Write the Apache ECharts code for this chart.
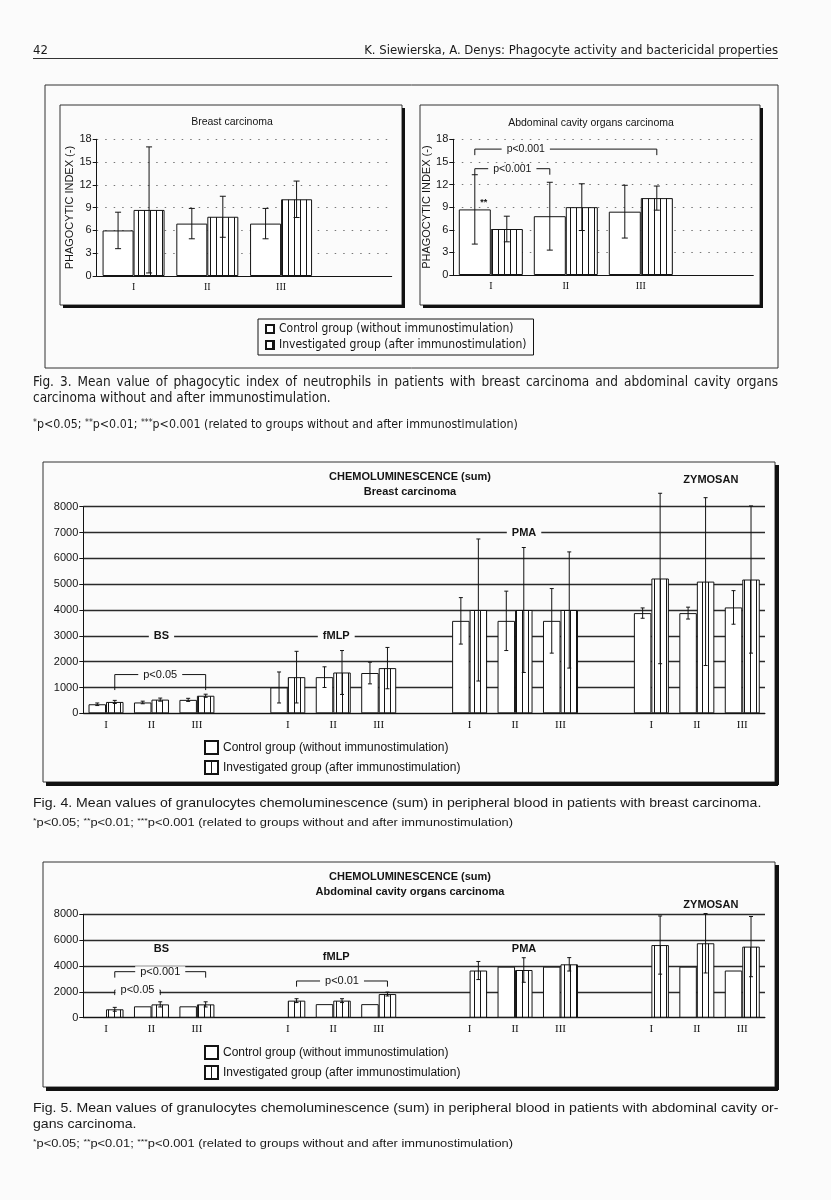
<!DOCTYPE html>
<html lang="en">
<head>
<meta charset="utf-8">
<title>Phagocyte activity - Fig. 3-5</title>
<script src="https://cdn.jsdelivr.net/npm/echarts@6/dist/echarts.min.js"></script>
<style>
    html, body { margin: 0; padding: 0; background: #fbfbfb; }
    #page { position: relative; width: 831px; height: 1200px; overflow: hidden; }
    #chart { position: absolute; left: 0; top: 0; width: 831px; height: 1200px; }
    .txt { position: absolute; left: 33px; width: 745px; color: #1a1a1a; white-space: nowrap;
           font-family: "Liberation Sans", Arial, sans-serif; transform-origin: 0 0; }
    .narrow { font-family: "Liberation Sans Narrow", "DejaVu Sans Condensed", "Liberation Sans", sans-serif; }
    .just { text-align: justify; text-align-last: justify; }
    .wide { transform: scaleX(1.085); width: 687px; }
    .foot { font-size: 11px; line-height: 14px; transform: scaleX(1.17); }
    sup { font-size: 70%; vertical-align: 3px; line-height: 0; }
</style>
</head>
<body>
<div id="page">
    <div id="chart"></div>

    <!--page header-->
    <div class="txt narrow" style="top:42px;font-size:13px;line-height:15px;border-bottom:1px solid #333;padding-bottom:1px;">
        <span>42</span><span style="float:right">K. Siewierska, A. Denys: Phagocyte activity and bactericidal properties</span>
    </div>

    <!--Fig. 3 caption-->
    <div class="txt narrow just" style="top:373px;font-size:13.5px;line-height:16px;">Fig. 3. Mean value of phagocytic index of neutrophils in patients with breast carcinoma and abdominal cavity organs</div>
    <div class="txt narrow" style="top:389px;font-size:13.5px;line-height:16px;">carcinoma without and after immunostimulation.</div>
    <div class="txt narrow" style="top:417px;font-size:12.3px;line-height:14px;"><sup>*</sup>p&lt;0.05; <sup>**</sup>p&lt;0.01; <sup>***</sup>p&lt;0.001 (related to groups without and after immunostimulation)</div>

    <!--Fig. 4 caption-->
    <div class="txt wide" style="top:795px;font-size:13px;line-height:16px;">Fig. 4. Mean values of granulocytes chemoluminescence (sum) in peripheral blood in patients with breast carcinoma.</div>
    <div class="txt foot" style="top:815px;"><sup>*</sup>p&lt;0.05; <sup>**</sup>p&lt;0.01; <sup>***</sup>p&lt;0.001 (related to groups without and after immunostimulation)</div>

    <!--Fig. 5 caption-->
    <div class="txt wide just" style="top:1100px;font-size:13px;line-height:16px;">Fig. 5. Mean values of granulocytes chemoluminescence (sum) in peripheral blood in patients with abdominal cavity or-</div>
    <div class="txt wide" style="top:1116px;font-size:13px;line-height:16px;">gans carcinoma.</div>
    <div class="txt foot" style="top:1136px;"><sup>*</sup>p&lt;0.05; <sup>**</sup>p&lt;0.01; <sup>***</sup>p&lt;0.001 (related to groups without and after immunostimulation)</div>
</div>

<script>
    // ---- Fig. 3: phagocytic index ----
    var fig3Cats     = ['I', 'II', 'III', ''];
    var breastCtrl   = [6.0, 6.9, 6.9, '-'];
    var breastCtrlSd = [2.4, 2.0, 2.0, '-'];
    var breastInv    = [8.7, 7.8, 10.1, '-'];
    var breastInvSd  = [8.3, 2.7, 2.4, '-'];
    var abdCtrl      = [8.7, 7.8, 8.4, '-'];
    var abdCtrlSd    = [4.6, 4.5, 3.5, '-'];
    var abdInv       = [6.1, 9.0, 10.2, '-'];
    var abdInvSd     = [1.7, 3.1, 1.6, '-'];

    // ---- Fig. 4 / 5: chemoluminescence (sum) ----
    var clCats = ['I', 'II', 'III', '', 'I', 'II', 'III', '', 'I', 'II', 'III', '', 'I', 'II', 'III'];
    var breastClCtrl   = [350, 420, 520, '-', 1000, 1400, 1560, '-', 3580, 3580, 3580, '-', 3880, 3880, 4100];
    var breastClCtrlSd = [50, 50, 60, '-', 600, 400, 420, '-', 900, 1150, 1250, '-', 200, 230, 650];
    var breastClInv    = [440, 530, 680, '-', 1400, 1580, 1750, '-', 4000, 4000, 4000, '-', 5220, 5100, 5180];
    var breastClInvSd  = [60, 60, 60, '-', 1000, 850, 800, '-', 2750, 2420, 2250, '-', 3300, 3250, 2850];
    var abdClCtrl      = ['-', 880, 880, '-', '-', 1050, 1050, '-', '-', 3950, 3950, '-', '-', 3950, 3650];
    var abdClInv       = [650, 1030, 1030, '-', 1320, 1320, 1830, '-', 3650, 3690, 4130, '-', 5620, 5760, 5500];
    var abdClInvSd     = [150, 200, 200, '-', 150, 150, 150, '-', 700, 950, 520, '-', 2250, 2300, 2330];

    // p-value brackets: [grid, fromCat, fromSide, toCat, toSide, level, tickEnd, text]
    var brackets = [
        [1, 0, -1, 2, 1, 16.7, 15.9, 'p<0.001'],
        [1, 0, -1, 1, -1, 14.1, 13.3, 'p<0.001'],
        [2, 0, 1, 2, 1, 1500, 900, 'p<0.05'],
        [3, 0, 1, 2, 1, 3560, 3100, 'p<0.001'],
        [3, 0, 1, 1, 1, 2140, 1750, 'p<0.05'],
        [3, 4, 1, 6, 1, 2840, 2400, 'p<0.01']
    ];
    // stimulant group labels: [grid, cat, level, text]
    var groupLabels = [
        [2, 1, 3000, 'BS'], [2, 5, 3000, 'fMLP'], [2, 9, 7000, 'PMA'], [2, 13, 9050, 'ZYMOSAN'],
        [3, 1, 5300, 'BS'], [3, 5, 4700, 'fMLP'], [3, 9, 5300, 'PMA'], [3, 13, 8750, 'ZYMOSAN']
    ];
    // significance stars on a bar: [grid, cat, side, level, text]
    var stars = [[1, 0, -1, 9.6, '**']];

    var CTRL = 'Control group (without immunostimulation)';
    var INV = 'Investigated group (after immunostimulation)';
    var INK = '#141414';
    var NARROW = '"Liberation Sans Narrow", "DejaVu Sans Condensed", "Liberation Sans", sans-serif';
    var barW = [31, 32, 17.5, 17.5];

    // vertical hatching for the investigated bars
    function stripes(step) {
        var c = document.createElement('canvas');
        c.width = step; c.height = 4;
        var g = c.getContext('2d');
        g.fillStyle = '#fff'; g.fillRect(0, 0, step, 4);
        g.fillStyle = INK; g.fillRect(0, 0, 1, 4);
        return c;
    }
    var hatch = stripes(6);

    function bars(gi, ctrl, inv) {
        return [
            { name: CTRL, type: 'bar', xAxisIndex: gi, yAxisIndex: gi, data: ctrl, barWidth: barW[gi], barGap: 0,
              itemStyle: { color: '#fff', borderColor: INK, borderWidth: 1 } },
            { name: INV, type: 'bar', xAxisIndex: gi, yAxisIndex: gi, data: inv, barWidth: barW[gi], barGap: 0,
              itemStyle: { color: { image: hatch, repeat: 'repeat' }, borderColor: INK, borderWidth: 1 } }
        ];
    }

    function errors(gi, means, sds, side, cap) {
        var data = [];
        means.forEach(function (m, i) {
            if (m !== '-' && sds[i] !== '-') data.push([i, m, sds[i]]);
        });
        return {
            type: 'custom', xAxisIndex: gi, yAxisIndex: gi, z: 5, silent: true, data: data,
            renderItem: function (params, api) {
                var c = api.coord([api.value(0), api.value(1)]);
                var x = c[0] + side * barW[gi] / 2;
                var yt = api.coord([api.value(0), api.value(1) + api.value(2)])[1];
                var yb = api.coord([api.value(0), Math.max(0, api.value(1) - api.value(2))])[1];
                var st = { stroke: INK, lineWidth: 1 };
                return { type: 'group', children: [
                    { type: 'line', shape: { x1: x, y1: yt, x2: x, y2: yb }, style: st },
                    { type: 'line', shape: { x1: x - cap, y1: yt, x2: x + cap, y2: yt }, style: st },
                    { type: 'line', shape: { x1: x - cap, y1: yb, x2: x + cap, y2: yb }, style: st }
                ]};
            }
        };
    }

    function xCat(gi, cats, fs) {
        return {
            gridIndex: gi, type: 'category', data: cats,
            axisLine: { lineStyle: { color: INK, width: 1 } },
            axisTick: { length: 4, lineStyle: { color: INK } },
            axisLabel: { color: INK, fontSize: fs, margin: 6, interval: 0, fontFamily: 'Liberation Serif' }
        };
    }

    function yVal(gi, max, step, split, name) {
        var ax = {
            gridIndex: gi, type: 'value', min: 0, max: max, interval: step,
            axisLine: { show: true, lineStyle: { color: INK, width: 1 } },
            axisTick: { show: true, length: 4, lineStyle: { color: INK } },
            axisLabel: { color: INK, fontSize: 11, margin: 5, formatter: function (v) { return String(v); } },
            splitLine: split
        };
        if (name) {
            ax.name = name;
            ax.nameLocation = 'middle';
            ax.nameGap = 19;
            ax.nameTextStyle = { color: INK, fontSize: 11 };
        }
        return ax;
    }

    var dotted = { show: true, lineStyle: { color: '#777', type: [1.5, 7], width: 1 } };
    var solid = { show: true, lineStyle: { color: '#2a2a2a', width: 1.3 } };

    var chart = echarts.init(document.getElementById('chart'));
    chart.setOption({
        animation: false,
        textStyle: { fontFamily: '"Liberation Sans", Arial, sans-serif' },
        grid: [
            { left: 96.7, top: 139.3, width: 295, height: 136.7 },
            { left: 453.3, top: 139.3, width: 300, height: 135.7 },
            { left: 83.3, top: 506.7, width: 681.7, height: 206.6 },
            { left: 83.3, top: 914.3, width: 681.7, height: 103.4 }
        ],
        xAxis: [xCat(0, fig3Cats, 10), xCat(1, fig3Cats, 10), xCat(2, clCats, 11), xCat(3, clCats, 11)],
        yAxis: [
            yVal(0, 18, 3, dotted, 'PHAGOCYTIC INDEX (-)'),
            yVal(1, 18, 3, dotted, 'PHAGOCYTIC INDEX (-)'),
            yVal(2, 8000, 1000, solid),
            yVal(3, 8000, 2000, solid)
        ],
        legend: [
            { data: [CTRL, INV], orient: 'vertical', left: 258, top: 319, icon: 'rect',
              itemWidth: 8, itemHeight: 8, itemGap: 4, padding: [4, 7, 4, 7],
              borderColor: INK, borderWidth: 1, selectedMode: false,
              textStyle: { color: INK, fontSize: 12, fontFamily: NARROW } },
            { data: [CTRL, INV], orient: 'vertical', left: 204, top: 740, icon: 'rect',
              itemWidth: 13, itemHeight: 13, itemGap: 5, padding: 0, selectedMode: false,
              textStyle: { color: INK, fontSize: 12 } },
            { data: [CTRL, INV], orient: 'vertical', left: 204, top: 1045, icon: 'rect',
              itemWidth: 13, itemHeight: 13, itemGap: 5, padding: 0, selectedMode: false,
              textStyle: { color: INK, fontSize: 12 } }
        ],
        series: [].concat(
            bars(0, breastCtrl, breastInv),
            bars(1, abdCtrl, abdInv),
            bars(2, breastClCtrl, breastClInv),
            bars(3, abdClCtrl, abdClInv),
            [
                errors(0, breastCtrl, breastCtrlSd, -1, 3),
                errors(0, breastInv, breastInvSd, 1, 3),
                errors(1, abdCtrl, abdCtrlSd, -1, 3),
                errors(1, abdInv, abdInvSd, 1, 3),
                errors(2, breastClCtrl, breastClCtrlSd, -1, 2),
                errors(2, breastClInv, breastClInvSd, 1, 2),
                errors(3, abdClInv, abdClInvSd, 1, 2)
            ]
        )
    });

    // ---- frames, titles and annotations placed from the axes ----
    function at(gi, cat, side, v) {
        var p = chart.convertToPixel({ gridIndex: gi }, [cat, v]);
        return [p[0] + side * barW[gi] / 2, p[1]];
    }
    function text(x, y, s, font, bg) {
        var st = { text: s, font: font, fill: INK, align: 'center', verticalAlign: 'middle' };
        if (bg) { st.backgroundColor = '#fbfbfb'; st.padding = [0, 5]; }
        return { type: 'text', x: x, y: y, z: 20, style: st };
    }
    function frame(x, y, w, h, shadow) {
        var els = [{ type: 'rect', shape: { x: x, y: y, width: w, height: h }, z: 1,
                     style: { fill: null, stroke: '#333', lineWidth: 1 } }];
        if (shadow) {
            els.push({ type: 'rect', shape: { x: x + w, y: y + 3, width: shadow, height: h }, z: 1, style: { fill: '#111' } });
            els.push({ type: 'rect', shape: { x: x + 3, y: y + h, width: w, height: shadow }, z: 1, style: { fill: '#111' } });
        }
        return els;
    }

    var g = [];
    g = g.concat(frame(45, 85, 733, 283, 0));
    g = g.concat(frame(60, 105, 342, 200, 3));
    g = g.concat(frame(420, 105, 340, 200, 3));
    g = g.concat(frame(43, 462, 732, 320, 4));
    g = g.concat(frame(43, 862, 732, 225, 4));

    g.push(text(232, 122, 'Breast carcinoma', '10.5px "Liberation Sans"'));
    g.push(text(591, 123, 'Abdominal cavity organs carcinoma', '10.5px "Liberation Sans"'));
    g.push(text(410, 477, 'CHEMOLUMINESCENCE (sum)', 'bold 11px "Liberation Sans"'));
    g.push(text(410, 491.5, 'Breast carcinoma', 'bold 11px "Liberation Sans"'));
    g.push(text(410, 877, 'CHEMOLUMINESCENCE (sum)', 'bold 11px "Liberation Sans"'));
    g.push(text(410, 891.5, 'Abdominal cavity organs carcinoma', 'bold 11px "Liberation Sans"'));

    var nudge = { BS: 10, fMLP: 3, PMA: 9, ZYMOSAN: 14 };
    groupLabels.forEach(function (d) {
        var p = at(d[0], d[1], 0, d[2]);
        g.push(text(p[0] + nudge[d[3]], p[1], d[3], 'bold 11px "Liberation Sans"', d[2] <= 8000));
    });

    brackets.forEach(function (b) {
        var a = at(b[0], b[1], b[2], b[5]);
        var e = at(b[0], b[3], b[4], b[5]);
        var ya = at(b[0], b[1], b[2], b[6])[1];
        g.push({ type: 'polyline', z: 15, shape: { points: [[a[0], ya], [a[0], a[1]], [e[0], a[1]], [e[0], ya]] },
                 style: { stroke: INK, lineWidth: 1, fill: null } });
        var mid = b[0] === 1 && b[3] === 2 ? a[0] + (e[0] - a[0]) * 0.28 : (a[0] + e[0]) / 2;
        g.push(text(mid, a[1], b[7], (b[0] < 2 ? '10.5px' : '11px') + ' "Liberation Sans"', true));
    });

    stars.forEach(function (s) {
        var p = at(s[0], s[1], s[2], s[3]);
        g.push(text(p[0] + 9, p[1], s[4], 'bold 9px "Liberation Sans"'));
    });

    chart.setOption({ graphic: g });
</script>
</body>
</html>
